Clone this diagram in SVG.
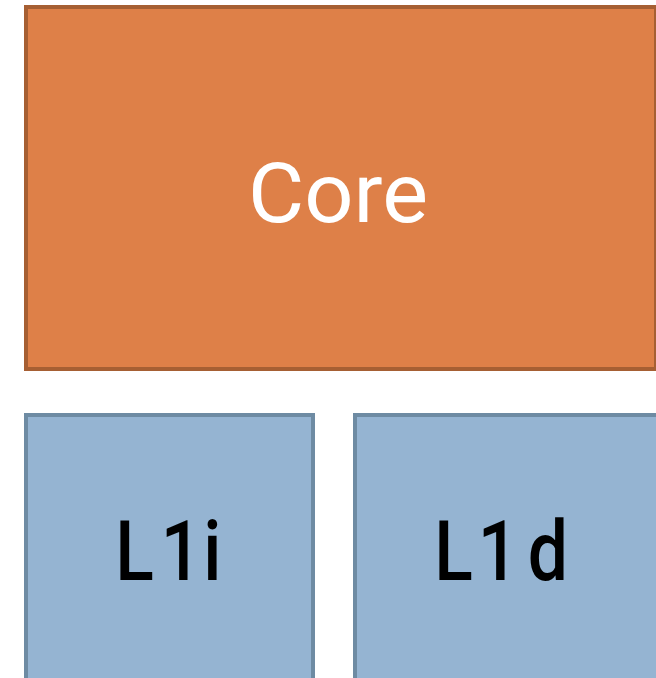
<svg xmlns="http://www.w3.org/2000/svg" width="656" height="678" viewBox="0 0 656 678">
  <style>
    .core { fill: #DE8048; stroke: #A65F33; stroke-width: 4; }
    .cache { fill: #95B4D2; stroke: #6E8BA3; stroke-width: 4; }
    .label { font-family: Roboto, "DejaVu Sans", sans-serif; font-size: 84px; }
    .core-label { fill: #FFFFFF; font-weight: 400; }
    .cache-label { fill: #000000; font-weight: 500; }
  </style>
  <rect width="656" height="678" fill="#FFFFFF"/>
  <g id="core">
    <rect class="core" x="26" y="7" width="630" height="362"/>
    <text class="label core-label" x="338" y="222" text-anchor="middle" textLength="180" lengthAdjust="spacingAndGlyphs">Core</text>
  </g>
  <g id="l1i">
    <rect class="cache" x="26" y="415" width="287" height="265"/>
    <!-- slightly condensed glyphs with wide tracking -->
    <text class="label cache-label" transform="scale(0.85 1)" x="135.5 189 239" y="580">L1i</text>
  </g>
  <g id="l1d">
    <rect class="cache" x="355" y="415" width="303" height="265"/>
    <text class="label cache-label" transform="scale(0.85 1)" x="511 562 621" y="580">L1d</text>
  </g>
  <g id="connectors"/>
</svg>
